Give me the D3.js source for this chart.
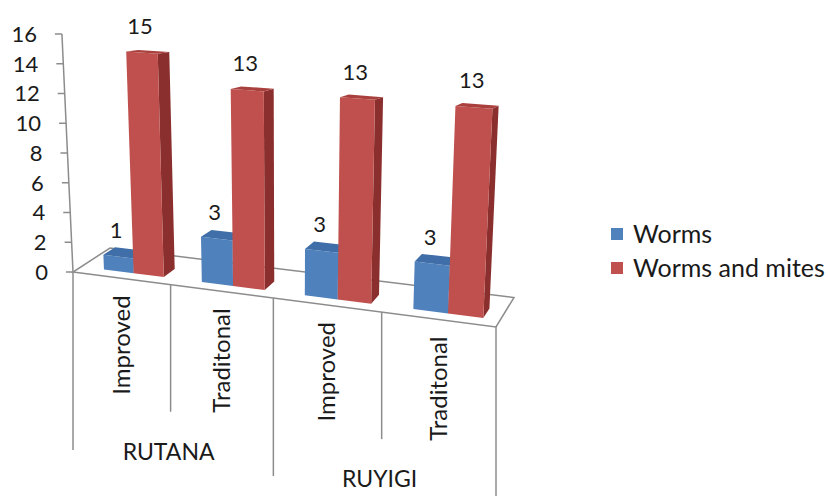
<!DOCTYPE html>
<html><head><meta charset="utf-8">
<script src="https://cdn.jsdelivr.net/npm/d3@7"></script>
<style>
body{margin:0;background:#fff}
text{font-family:Lato,"Open Sans",sans-serif;fill:#1a1a1a}
</style>
</head><body>
<svg id="c" width="828" height="496"></svg>
<script>
// ---------- data ----------
const groups = ["RUTANA", "RUYIGI"];
const categories = ["Improved", "Traditonal", "Improved", "Traditonal"];
const seriesNames = ["Worms", "Worms and mites"];
const worms = [1, 3, 3, 3];
const wormsAndMites = [15, 13, 13, 13];
const yTicks = [0, 2, 4, 6, 8, 10, 12, 14, 16];
const seriesColors = [
  {front: "#4f81bd", top: "#3f6ea8", side: "#35608f"},
  {front: "#c0504d", top: "#a9403d", side: "#8a2f2d"}
];

// ---------- projection (perspective 3D floor) ----------
const FL = [73, 272], FR = [496, 327], BR = [514, 297.5], BL = [110, 248];
function makeH(p0, p1, p2, p3) {
  const [x0, y0] = p0, [x1, y1] = p1, [x2, y2] = p2, [x3, y3] = p3;
  const dx1 = x1 - x2, dy1 = y1 - y2, dx2 = x3 - x2, dy2 = y3 - y2;
  const dx3 = x0 - x1 + x2 - x3, dy3 = y0 - y1 + y2 - y3;
  const den = dx1 * dy2 - dy1 * dx2;
  const g = (dx3 * dy2 - dy3 * dx2) / den, h = (dx1 * dy3 - dy1 * dx3) / den;
  const a = x1 - x0 + g * x1, b = x3 - x0 + h * x3, c = x0;
  const d = y1 - y0 + g * y1, e = y3 - y0 + h * y3, f = y0;
  return (u, w) => { const q = g * u + h * w + 1; return [(a * u + b * w + c) / q, (d * u + e * w + f) / q, q]; };
}
const H = makeH(FL, FR, BR, BL);
const yS = d3.scaleLinear().domain([0, 16]).range([0, 238]);
const vEye = 43, XC = 287, YV = 4872;
function P(u, w, v) {
  const b0 = H(u, 0), b = H(u, w);
  const by = b0[1] + (b[1] - b0[1]) * (1 - v / vEye);
  const hpx = yS(v) / b[2];
  const x = b[0] + (b[0] - XC) * hpx / (YV - by);
  return [x, by - hpx];
}

const xCat = d3.scaleBand().domain(d3.range(categories.length)).range([0, 1]);
const xSer = d3.scaleBand().domain(d3.range(seriesNames.length)).range([0, xCat.bandwidth()])
  .paddingInner(0).paddingOuter(0.62).align(0.62);
const W0 = 0.22, W1 = 0.54;

const svg = d3.select("#c");
const grey = "#8c8c8c";
const line = d3.line();

// floor
svg.append("path").attr("d", line([FL, FR, BR, BL]) + "Z")
  .attr("fill", "none").attr("stroke", grey).attr("stroke-width", 1.5);

// y axis
const a0 = P(0, 0, 0), a1 = P(0, 0, 16);
svg.append("line").attr("x1", a0[0]).attr("y1", a0[1]).attr("x2", a1[0]).attr("y2", a1[1])
  .attr("stroke", grey).attr("stroke-width", 1.5);
yTicks.forEach(t => {
  const p = P(0, 0, t);
  svg.append("line").attr("x1", p[0] - 7).attr("y1", p[1]).attr("x2", p[0]).attr("y2", p[1])
    .attr("stroke", grey).attr("stroke-width", 1.5);
  svg.append("text").attr("x", p[0] - 25).attr("y", p[1]).attr("dy", "0.36em")
    .attr("text-anchor", "end").style("font-size", "22px").text(t);
});

// category dividers and labels
for (let i = 0; i <= categories.length; i++) {
  const u = i / categories.length;
  const p = P(u, 0, 0);
  const len = (i % 2 === 0) ? 178 : 127;
  svg.append("line").attr("x1", p[0]).attr("y1", p[1]).attr("x2", p[0]).attr("y2", p[1] + len)
    .attr("stroke", grey).attr("stroke-width", 1.5);
}
categories.forEach((c, i) => {
  const p = P(xCat(i) + xCat.bandwidth() / 2, 0, 0);
  svg.append("text").attr("transform", `translate(${p[0]},${p[1] + 17}) rotate(-90)`)
    .attr("dy", "0.36em").attr("text-anchor", "end").style("font-size", "24px").text(c);
});
groups.forEach((g, i) => {
  const p = P((i + 0.5) / groups.length, 0, 0);
  svg.append("text").attr("x", p[0] - 2).attr("y", p[1] + 175).attr("text-anchor", "middle")
    .style("font-size", "23px").text(g);
});

// bars
const seriesData = [worms, wormsAndMites];
categories.forEach((c, i) => {
  seriesData.forEach((vals, s) => {
    const v = vals[i];
    const u0 = xCat(i) + xSer(s), u1 = u0 + xSer.bandwidth();
    const col = seriesColors[s];
    const side = [P(u1, W0, 0), P(u1, W1, 0), P(u1, W1, v), P(u1, W0, v)];
    const front = [P(u0, W0, 0), P(u1, W0, 0), P(u1, W0, v), P(u0, W0, v)];
    const top = [P(u0, W0, v), P(u1, W0, v), P(u1, W1, v), P(u0, W1, v)];
    svg.append("path").attr("d", line(side) + "Z").attr("fill", col.side);
    svg.append("path").attr("d", line(front) + "Z").attr("fill", col.front);
    svg.append("path").attr("d", line(top) + "Z").attr("fill", col.top);
  });
});
// data labels
categories.forEach((c, i) => {
  seriesData.forEach((vals, s) => {
    const v = vals[i];
    const u0 = xCat(i) + xSer(s), uc = u0 + xSer.bandwidth() / 2;
    const p = P(uc, W0, v);
    svg.append("text").attr("x", p[0] - 2).attr("y", p[1] - 19).attr("text-anchor", "middle")
      .style("font-size", "22px").text(v);
  });
});

// legend
seriesNames.forEach((n, i) => {
  const y = 234 + i * 34;
  svg.append("rect").attr("x", 611).attr("y", y - 6).attr("width", 12).attr("height", 12)
    .attr("fill", seriesColors[i].front);
  svg.append("text").attr("x", 633).attr("y", y).attr("dy", "0.36em")
    .style("font-size", "25px").text(n);
});
</script>
</body></html>
